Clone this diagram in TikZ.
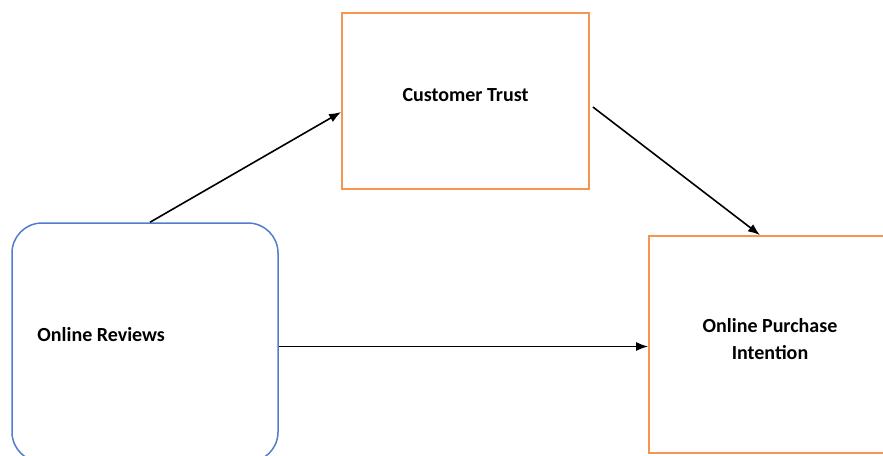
\documentclass[tikz,border=0pt]{standalone}
\usepackage{fontspec}
\setmainfont{Carlito}
\usetikzlibrary{arrows.meta}
\definecolor{boxorange}{RGB}{244,150,80}
\definecolor{boxblue}{RGB}{80,125,205}
\tikzset{
  conbox/.style={draw=boxorange, line width=1.8pt, minimum width=#1},
  revbox/.style={draw=boxblue, line width=1.5pt, rounded corners=30pt},
  txt/.style={font=\fontsize{20}{27}\selectfont\bfseries, inner sep=0pt},
  link/.style={-{Latex[length=12pt,width=9pt]}, line width=1.6pt}
}
\begin{document}
\begin{tikzpicture}[x=1pt,y=-1pt]
  \useasboundingbox (0,0) rectangle (883,455);
  \clip (0,0) rectangle (883,455);
  \node[conbox=247pt, minimum height=176pt,
    label={[txt, yshift=6pt]center:Customer Trust}] (trust) at (465.5,101) {};
  \node[revbox, minimum width=266pt, minimum height=239pt,
    label={[txt, anchor=west, xshift=26pt, yshift=8pt]west:Online Reviews}] (rev) at (145,342.5) {};
  \node[conbox=242pt, minimum height=217pt,
    label={[txt, align=center, yshift=5pt]center:Online Purchase\\Intention}] (purch) at (770,344.5) {};
  \draw[link] ([xshift=5pt]rev.north) -- ([yshift=-11pt]trust.west);
  \draw[link] ([shift={(3pt,-6pt)}]trust.east) -- ([xshift=-10pt]purch.north);
  \draw[link] ([yshift=-4pt]rev.east) -- ([yshift=-2pt]purch.west);
\end{tikzpicture}
\end{document}
